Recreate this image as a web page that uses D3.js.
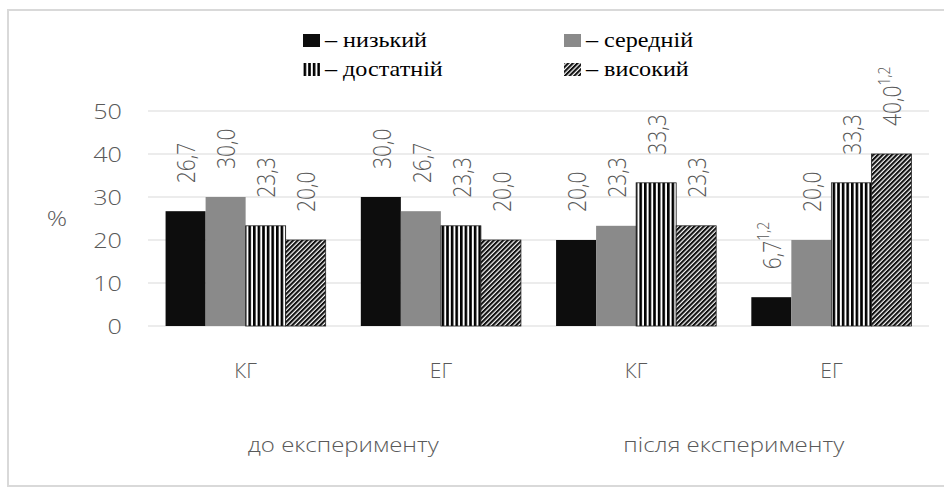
<!DOCTYPE html>
<html>
<head>
<meta charset="utf-8">
<script src="https://cdn.jsdelivr.net/npm/d3@7"></script>
<style>
  body { margin: 0; background: #fff; }
  text { font-family: "Open Sans", sans-serif; }
  .leg text { font-family: "Liberation Serif", serif; }
</style>
</head>
<body>
<svg id="chart" width="944" height="488"></svg>
<script>

// data
var groups = ['до експерименту', 'після експерименту'];
var categories = ['КГ', 'ЕГ', 'КГ', 'ЕГ'];
var levels = ['низький', 'середній', 'достатній', 'високий'];
var lowVals = [26.7, 30.0, 20.0, 6.7];
var midVals = [30.0, 26.7, 23.3, 20.0];
var suffVals = [23.3, 23.3, 33.3, 33.3];
var highVals = [20.0, 20.0, 23.3, 40.0];
var lowNotes = ['', '', '', '1,2'];
var midNotes = ['', '', '', ''];
var suffNotes = ['', '', '', ''];
var highNotes = ['', '', '', '1,2'];
var yTicks = [0, 10, 20, 30, 40, 50];

var series = [lowVals, midVals, suffVals, highVals];
var notes = [lowNotes, midNotes, suffNotes, highNotes];
var fills = ['#0d0d0d', '#8a8a8a', 'url(#vstripe)', 'url(#diag)'];

var svg = d3.select('#chart');
var sx = 1.2; // the picture is a bit wider than tall, text too

// frame
svg.append('rect')
    .attr('x', 8).attr('y', 10)
    .attr('width', 945).attr('height', 476)
    .attr('fill', 'none').attr('stroke', '#d9d9d9').attr('stroke-width', 2);

// patterns
var defs = svg.append('defs');
var vp = defs.append('pattern').attr('id', 'vstripe')
    .attr('patternUnits', 'userSpaceOnUse').attr('width', 4.6).attr('height', 10);
vp.append('rect').attr('width', 4.6).attr('height', 10).attr('fill', '#fff');
vp.append('rect').attr('width', 2.6).attr('height', 10).attr('fill', '#000');

var dp = defs.append('pattern').attr('id', 'diag')
    .attr('patternUnits', 'userSpaceOnUse').attr('width', 3.3).attr('height', 10)
    .attr('patternTransform', 'rotate(45)');
dp.append('rect').attr('width', 3.3).attr('height', 10).attr('fill', '#fff');
dp.append('rect').attr('width', 2.1).attr('height', 10).attr('fill', '#111');

// scales
var y = d3.scaleLinear().domain([0, 50]).range([326, 111]);
var x0 = d3.scaleBand().domain(d3.range(categories.length)).range([148, 929])
    .paddingInner(0.18).paddingOuter(0.09);
var x1 = d3.scaleBand().domain(d3.range(levels.length)).range([0, x0.bandwidth()]);

// stretched text helper
function sText(parent, x, yy, anchor, k) {
    return parent.append('g')
        .attr('transform', 'translate(' + x + ',' + yy + ') scale(' + (k || sx) + ',1)')
        .append('text').attr('text-anchor', anchor);
}

// gridlines
svg.append('g').selectAll('line').data(yTicks).enter().append('line')
    .attr('x1', 148).attr('x2', 929)
    .attr('y1', d => y(d)).attr('y2', d => y(d))
    .attr('stroke', '#d9d9d9').attr('stroke-width', 1.2);

// y labels
var yl = svg.append('g');
yTicks.forEach(function (t) {
    sText(yl, 122, y(t), 'end')
        .attr('dominant-baseline', 'central')
        .attr('font-size', 21).attr('font-weight', 300).attr('fill', '#595959')
        .text(t);
});
sText(svg, 57, 218, 'middle').attr('dominant-baseline', 'central')
    .attr('font-size', 21).attr('font-weight', 300).attr('fill', '#595959').text('%');

// bars
var barsG = svg.append('g');
series.forEach(function (vals, s) {
    barsG.selectAll('rect.s' + s).data(vals).enter().append('rect')
        .attr('class', 's' + s)
        .attr('x', (d, i) => x0(i) + x1(s))
        .attr('y', d => y(d))
        .attr('width', x1.bandwidth())
        .attr('height', d => y(0) - y(d))
        .attr('fill', fills[s])
        .attr('stroke', s >= 2 ? '#222' : 'none')
        .attr('stroke-width', 0.8);
});

// value labels, rotated
var fmt = d => d.toFixed(1).replace('.', ',');
var lab = svg.append('g');
series.forEach(function (vals, s) {
    vals.forEach(function (v, i) {
        var cx = x0(i) + x1(s) + x1.bandwidth() / 2;
        var t = lab.append('g')
            .attr('transform', 'translate(' + cx + ',' + (y(v) - 28) + ')')
            .append('text')
            .attr('transform', 'rotate(-90) scale(1,' + sx + ')')
            .attr('dominant-baseline', 'central')
            .attr('font-size', 21).attr('font-weight', 300).attr('fill', '#595959');
        t.append('tspan').text(fmt(v));
        if (notes[s][i]) {
            t.append('tspan').attr('font-size', 14).attr('dy', -7).text(notes[s][i]);
        }
    });
});

// category labels
var cl = svg.append('g');
categories.forEach(function (c, i) {
    sText(cl, x0(i) + x0.bandwidth() / 2, 378, 'middle', 1)
        .attr('font-size', 21).attr('font-weight', 300).attr('fill', '#595959').text(c);
});
groups.forEach(function (g, k) {
    var cx = (x0(2 * k) + x0(2 * k + 1) + x0.bandwidth()) / 2;
    sText(cl, cx, 452, 'middle')
        .attr('font-size', 20).attr('font-weight', 300).attr('fill', '#595959').text(g);
});

// legend
var leg = svg.append('g').attr('class', 'leg');
var legCols = [303, 564];
var legRows = [47, 76];
levels.forEach(function (name, s) {
    var lx = legCols[s % 2], ly = legRows[Math.floor(s / 2)];
    leg.append('rect')
        .attr('x', lx).attr('y', ly - 13)
        .attr('width', 17).attr('height', 13)
        .attr('fill', fills[s]);
    sText(leg, lx + 22, ly, 'start', 1.15)
        .attr('font-size', 21).attr('font-weight', 400).attr('fill', '#000')
        .text('– ' + name);
});

</script>
</body>
</html>
